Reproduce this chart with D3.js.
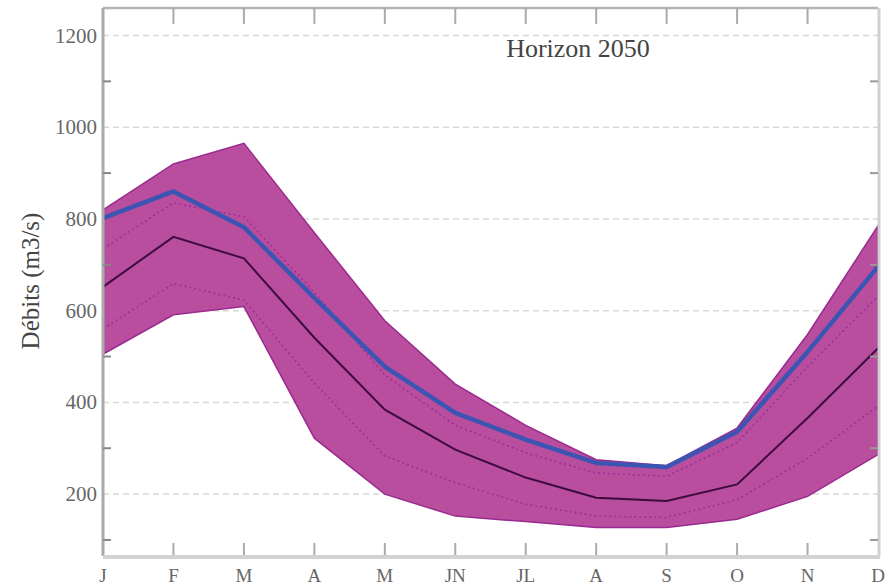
<!DOCTYPE html>
<html>
<head>
<meta charset="utf-8">
<script src="https://cdn.jsdelivr.net/npm/d3@7"></script>
<style>
  body { margin: 0; background: #fff; }
  svg { display: block; }
  text { font-family: "Liberation Serif", "DejaVu Serif", serif; }
</style>
</head>
<body>
<svg width="886" height="585"></svg>
<script>
const width = 886, height = 585;
const margin = { top: 8, right: 8, bottom: 29, left: 103 };
const svg = d3.select("svg");

// monthly discharge (m3/s)
const months = ["J", "F", "M", "A", "M", "JN", "JL", "A", "S", "O", "N", "D"];
const qMax   = [820, 920, 965, 770, 578, 440, 350, 275, 262, 344, 548, 785];
const qMin   = [505, 591, 609, 322, 200, 152, 140, 127, 127, 145, 195, 286];
const qRef   = [802, 860, 782, 628, 478, 377, 319, 268, 259, 336, 510, 696];
const qHigh  = [735, 835, 805, 640, 460, 350, 290, 246, 239, 312, 478, 632];
const qMed   = [652, 761, 714, 541, 384, 297, 236, 192, 185, 221, 366, 518];
const qLow   = [560, 659, 623, 442, 283, 225, 178, 152, 149, 188, 278, 392];
const yTicks = [200, 400, 600, 800, 1000, 1200];
const yMinor = [100, 300, 500, 700, 900, 1100];

const x = d3.scaleLinear()
  .domain([0, months.length - 1])
  .range([margin.left, width - margin.right]);

const y = d3.scaleLinear()
  .domain([65, 1260])
  .range([height - margin.bottom, margin.top]);

// dashed grid
svg.append("g")
  .selectAll("line")
  .data(yTicks)
  .join("line")
  .attr("x1", x(0)).attr("x2", x(11))
  .attr("y1", d => y(d)).attr("y2", d => y(d))
  .attr("stroke", "#d8d8d8")
  .attr("stroke-width", 1.5)
  .attr("stroke-dasharray", "6,4");

const idx = d3.range(months.length);

// envelope
const area = d3.area()
  .x(i => x(i))
  .y0(i => y(qMin[i]))
  .y1(i => y(qMax[i]));

svg.append("path")
  .datum(idx)
  .attr("d", area)
  .attr("fill", "#b94e9e")
  .attr("stroke", "#9a2a8e")
  .attr("stroke-width", 1.5);

const line = arr => d3.line().x(i => x(i)).y(i => y(arr[i]))(idx);

// dotted quantile lines
[qHigh, qLow].forEach(arr => {
  svg.append("path")
    .attr("d", line(arr))
    .attr("fill", "none")
    .attr("stroke", "#9a3098")
    .attr("stroke-width", 1.6)
    .attr("stroke-dasharray", "2,3");
});

// median
svg.append("path")
  .attr("d", line(qMed))
  .attr("fill", "none")
  .attr("stroke", "#3c0c3e")
  .attr("stroke-width", 2);

// reference
svg.append("path")
  .attr("d", line(qRef))
  .attr("fill", "none")
  .attr("stroke", "#3d55b2")
  .attr("stroke-width", 4.5)
  .attr("stroke-linejoin", "round");

// frame
const x0 = x(0), x1 = x(11), yb = y.range()[0], yt = y.range()[1];
svg.append("line").attr("x1", x0).attr("x2", x1).attr("y1", yt).attr("y2", yt)
  .attr("stroke", "#b4b4b4").attr("stroke-width", 2.5);
svg.append("line").attr("x1", x1 + 1).attr("x2", x1 + 1).attr("y1", yt).attr("y2", yb)
  .attr("stroke", "#d0d0d0").attr("stroke-width", 3);
svg.append("line").attr("x1", x0).attr("x2", x0).attr("y1", yt).attr("y2", yb)
  .attr("stroke", "#aaaaaa").attr("stroke-width", 3);
svg.append("line").attr("x1", x0).attr("x2", x1 + 2).attr("y1", yb + 1).attr("y2", yb + 1)
  .attr("stroke", "#d2d2d2").attr("stroke-width", 4);

// month ticks (top and bottom)
const mt = svg.append("g");
mt.selectAll(".tt").data(idx.slice(1, 11)).join("line")
  .attr("x1", i => x(i)).attr("x2", i => x(i))
  .attr("y1", yt).attr("y2", yt + 16)
  .attr("stroke", "#aaaaaa").attr("stroke-width", 2);
mt.selectAll(".tb").data(idx.slice(1, 11)).join("line")
  .attr("x1", i => x(i)).attr("x2", i => x(i))
  .attr("y1", yb - 1).attr("y2", yb - 13)
  .attr("stroke", "#aaaaaa").attr("stroke-width", 2);

// y minor ticks (left and right)
const yt2 = svg.append("g");
yt2.selectAll(".ml").data(yMinor).join("line")
  .attr("x1", x0).attr("x2", x0 + 8)
  .attr("y1", d => y(d)).attr("y2", d => y(d))
  .attr("stroke", "#888").attr("stroke-width", 2);
yt2.selectAll(".mr").data(yMinor).join("line")
  .attr("x1", x1).attr("x2", x1 - 8)
  .attr("y1", d => y(d)).attr("y2", d => y(d))
  .attr("stroke", "#999").attr("stroke-width", 2);

// y labels
svg.append("g")
  .selectAll("text")
  .data(yTicks)
  .join("text")
  .attr("x", x0 - 6)
  .attr("y", d => y(d) + 7)
  .attr("text-anchor", "end")
  .attr("font-size", 21)
  .attr("fill", "#666")
  .text(d => d);

// month labels
svg.append("g")
  .selectAll("text")
  .data(idx)
  .join("text")
  .attr("x", i => x(i))
  .attr("y", 582)
  .attr("text-anchor", "middle")
  .attr("font-size", 19)
  .attr("fill", "#666")
  .text(i => months[i]);

// axis title
svg.append("text")
  .attr("transform", "translate(39,281) rotate(-90)")
  .attr("text-anchor", "middle")
  .attr("font-size", 25)
  .attr("fill", "#444")
  .text("Débits (m3/s)");

// scenario title
svg.append("text")
  .attr("x", 578)
  .attr("y", 57)
  .attr("text-anchor", "middle")
  .attr("font-size", 26)
  .attr("fill", "#444")
  .text("Horizon 2050");
</script>
</body>
</html>
